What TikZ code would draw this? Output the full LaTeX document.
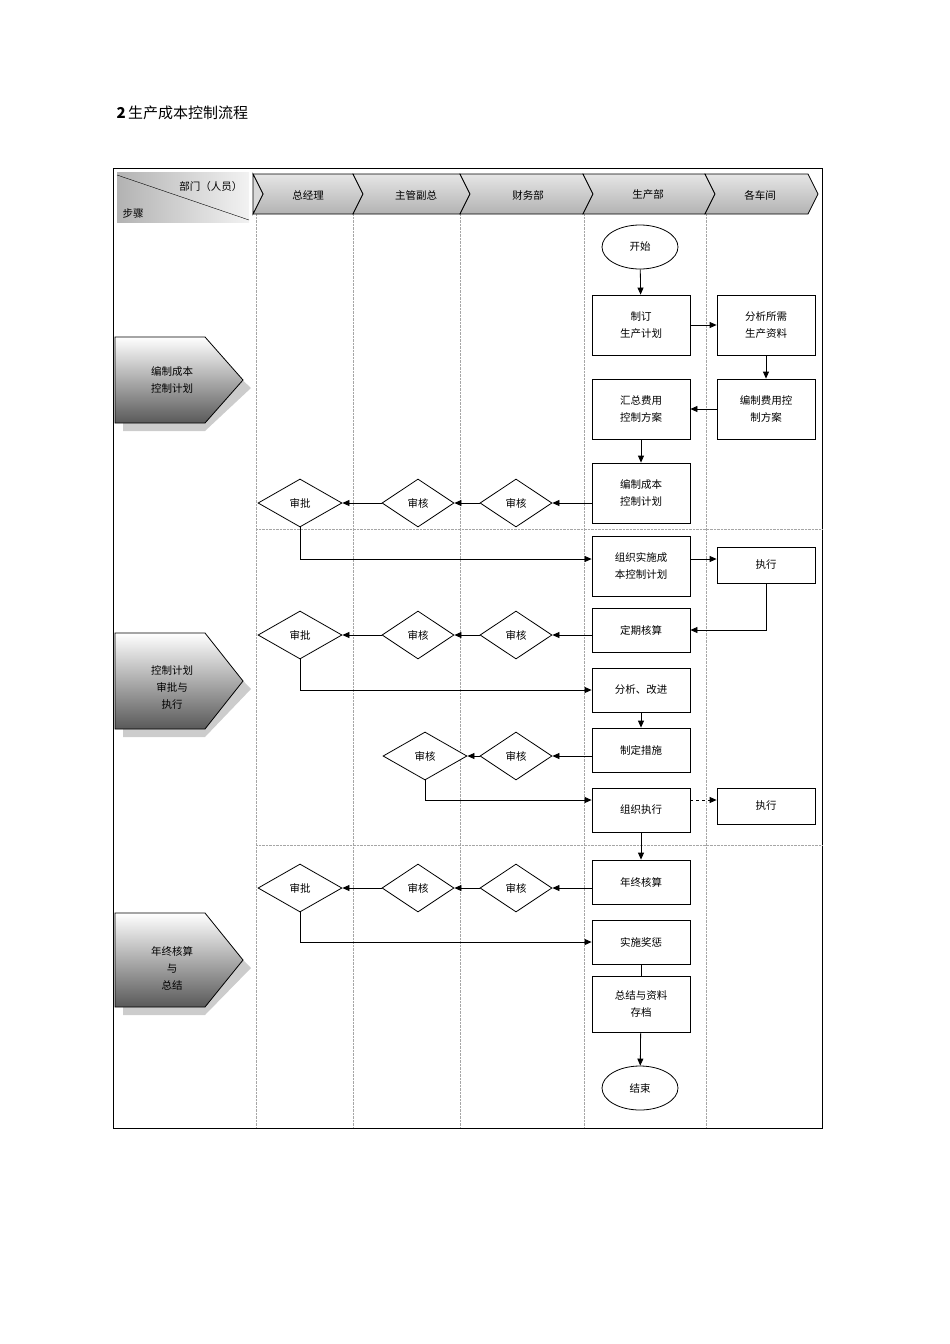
\documentclass[tikz,border=0pt]{standalone}
\usepackage{fontspec}
\setmainfont{Noto Sans CJK SC}
\usetikzlibrary{shapes.geometric,arrows.meta}
\begin{document}
\begin{tikzpicture}[x=1pt,y=-1pt,font=\fontsize{10.5}{13}\selectfont,
  box/.style={draw,thick,fill=white,minimum width=98pt,align=center,inner sep=1pt},
  dia/.style={draw,thick,diamond,aspect=1.5,minimum width=72pt,minimum height=48pt,inner sep=0pt,fill=white},
  ell/.style={draw,thick,ellipse,minimum width=76pt,minimum height=44pt},
  ar/.style={thick,-{Triangle[length=7pt,width=6pt]}},
  lane/.style={densely dotted,gray!70},
  stepshape/.style={draw,thick,top color=white,bottom color=gray!70!black}]
\useasboundingbox (0,0) rectangle (950,1344);
\node[anchor=west,font=\fontsize{15}{18}\selectfont] (title) at (113,113) {\textbf{2}\,生产成本控制流程};
\draw[thick] (113,168) rectangle (822,1128);
% lanes
\foreach \x in {256,353,460,584,706} \draw[lane] (\x,214) -- (\x,1128);
\draw[lane] (256,529) -- (822,529);
\draw[lane] (256,845) -- (822,845);
% corner header
\fill[left color=gray!60,right color=gray!10] (117,172) rectangle (249,222);
\draw (117,175) -- (249,220);
\node[anchor=east] (hd) at (246,187) {部门（人员）};
\node[anchor=west] (st) at (119,213) {步骤};
% header arrows
\foreach \a/\b in {253/353,353/460,460/583,583/705,705/808}{
  \shade[top color=gray!20,bottom color=gray!60,draw=black,thick] (\a,174) -- (\b,174) -- (\b+10,194) -- (\b,214) -- (\a,214) -- (\a+10,194) -- cycle;
}
\draw[thick,fill=gray!30] (253,174) -- (263,194) -- (253,214) -- cycle;
\node (h1) at (308,195) {总经理};
\node (h2) at (416,195) {主管副总};
\node (h3) at (528,195) {财务部};
\node (h4) at (648,195) {生产部};
\node (h5) at (760,195) {各车间};
% steps
\foreach \t/\bb in {337/423,633/729,913/1007}{
  \fill[gray!40] (123,\t+8) -- (205,\t+8) -- (251,{(\t+\bb)/2+8}) -- (205,\bb+8) -- (123,\bb+8) -- cycle;
  \draw[stepshape] (115,\t) -- (205,\t) -- (243,{(\t+\bb)/2}) -- (205,\bb) -- (115,\bb) -- cycle;
}
\node[align=center] (s1) at (172,380) {编制成本\\[4pt]控制计划};
\node[align=center] (s2) at (172,688) {控制计划\\[4pt]审批与\\[4pt]执行};
\node[align=center] (s3) at (172,968) {年终核算\\[4pt]与\\[4pt]总结};
% nodes
\node[ell] (start) at (640,247) {开始};
\node[box,minimum height=60pt] (b1) at (641,325) {制订\\[4pt]生产计划};
\node[box,minimum height=60pt] (b2) at (766,325) {分析所需\\[4pt]生产资料};
\node[box,minimum height=60pt] (b3) at (766,409) {编制费用控\\[4pt]制方案};
\node[box,minimum height=60pt] (b4) at (641,409) {汇总费用\\[4pt]控制方案};
\node[box,minimum height=60pt] (b5) at (641,493) {编制成本\\[4pt]控制计划};
\node[dia] (d1a) at (516,503) {审核};
\node[dia] (d1b) at (418,503) {审核};
\node[dia,minimum width=84pt] (d1c) at (300,503) {审批};
\node[box,minimum height=60pt] (b6) at (641,566) {组织实施成\\[4pt]本控制计划};
\node[box,minimum height=36pt] (b7) at (766,565) {执行};
\node[box,minimum height=44pt] (b8) at (641,630) {定期核算};
\node[dia] (d2a) at (516,635) {审核};
\node[dia] (d2b) at (418,635) {审核};
\node[dia,minimum width=84pt] (d2c) at (300,635) {审批};
\node[box,minimum height=44pt] (b9) at (641,690) {分析、改进};
\node[box,minimum height=44pt] (b10) at (641,750) {制定措施};
\node[dia] (d3a) at (516,756) {审核};
\node[dia,minimum width=84pt] (d3b) at (425,756) {审核};
\node[box,minimum height=44pt] (b11) at (641,810) {组织执行};
\node[box,minimum height=36pt] (b12) at (766,806) {执行};
\node[box,minimum height=44pt] (b13) at (641,882) {年终核算};
\node[dia] (d4a) at (516,888) {审核};
\node[dia] (d4b) at (418,888) {审核};
\node[dia,minimum width=84pt] (d4c) at (300,888) {审批};
\node[box,minimum height=44pt] (b14) at (641,942) {实施奖惩};
\node[box,minimum height=56pt] (b15) at (641,1004) {总结与资料\\[4pt]存档};
\node[ell] (end) at (640,1088) {结束};
% connectors
\draw[ar] (start) -- (b1);
\draw[ar] (b1) -- (b2);
\draw[ar] (b2) -- (b3);
\draw[ar] (b3) -- (b4);
\draw[ar] (b4) -- (b5);
\draw[ar] (b5.west|-d1a) -- (d1a);
\draw[ar] (d1a) -- (d1b);
\draw[ar] (d1b) -- (d1c);
\draw[ar] (d1c.south) |- (b6.west|-0,559);
\draw[ar] (b6.east|-0,559) -- (b7.west|-0,559);
\draw[ar] (b7.south) |- (b8.east);
\draw[ar] (b8.west|-d2a) -- (d2a);
\draw[ar] (d2a) -- (d2b);
\draw[ar] (d2b) -- (d2c);
\draw[ar] (d2c.south) |- (b9.west);
\draw[ar] (b9) -- (b10);
\draw[ar] (b10.west|-d3a) -- (d3a);
\draw[ar] (d3a) -- (d3b);
\draw[ar] (d3b.south) |- (b11.west|-0,800);
\draw[ar,dashed] (b11.east|-0,800) -- (b12.west|-0,800);
\draw[ar] (b11) -- (b13);
\draw[ar] (b13.west|-d4a) -- (d4a);
\draw[ar] (d4a) -- (d4b);
\draw[ar] (d4b) -- (d4c);
\draw[ar] (d4c.south) |- (b14.west);
\draw[thick] (b14) -- (b15);
\draw[ar] (b15) -- (end);
\end{tikzpicture}
\end{document}
